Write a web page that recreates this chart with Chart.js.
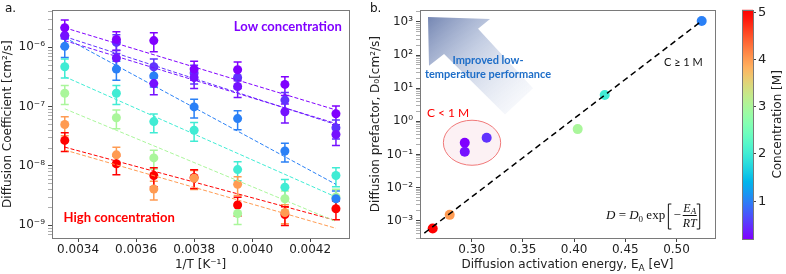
<!DOCTYPE html>
<html>
<head>
<meta charset="utf-8">
<script src="https://cdn.jsdelivr.net/npm/chart.js@4"></script>
<style>
  body { margin: 0; background: #fff; }
  #wrap { position: relative; width: 786px; height: 274px; }
  canvas { position: absolute; top: 0; }
</style>
</head>
<body>
<div id="wrap">
  <canvas id="chartA" width="360" height="274" style="left:0"></canvas>
  <canvas id="chartB" width="364" height="274" style="left:366px"></canvas>
  <canvas id="chartC" width="56" height="274" style="left:730px"></canvas>
</div>
<script>
// ---- panel a : D vs 1/T (25, 10, 0, -10, -20, -30, -40 °C) ----
const invT = [0.003354, 0.003532, 0.003661, 0.0038, 0.00395, 0.004113, 0.004289];
const aXTicks = [0.0034, 0.0036, 0.0038, 0.0040, 0.0042];
const aDecades = [-9, -8, -7, -6];
// concentration [M] of each series (3 low-conc, 1 M, 2 M, 3 M, 4 M, 5 M)
const seriesConc = [0.2, 0.3, 0.5, 1, 2, 3, 4, 5];
const dP1 = [2.14e-6, 1.36e-6, 1.30e-6, 4.3e-7, 4.2e-7, 2.37e-7, 7.6e-8];
const dP2 = [1.58e-6, 6.6e-7, 2.45e-7, 3.1e-7, 2.19e-7, 8.2e-8, 3.4e-8];
const dP3 = [1.58e-6, 1.21e-6, 4.7e-7, 3.7e-7, 3.1e-7, 1.29e-7, 4.4e-8];
const dBlue = [1.04e-6, 4.3e-7, 3.3e-7, 9.9e-8, 6.3e-8, 1.79e-8, 2.8e-9];
const dCyan = [4.7e-7, 1.68e-7, 5.6e-8, 4.0e-8, 8.7e-9, 4.4e-9, 6.9e-9];
const dGreen = [1.68e-7, 6.5e-8, 1.37e-8, null, 1.58e-9, 2.8e-9, 3.0e-9];
const dOrange = [5.0e-8, 1.54e-8, 4.1e-9, 6.2e-9, 4.9e-9, 1.64e-9, null];
const dRed = [2.7e-8, 1.09e-8, 6.9e-9, 6.4e-9, 2.2e-9, 1.52e-9, 1.9e-9];
// dashed Arrhenius fits: value at first and last temperature
const fitFirst = [2.14e-6, 1.30e-6, 1.52e-6, 1.46e-6, 3.2e-7, 9.2e-8, 1.86e-8, 2.08e-8];
const fitLast = [8.8e-8, 5.2e-8, 5.0e-8, 4.9e-9, 3.0e-9, 1.16e-9, 8.9e-10, 1.21e-9];
const relErr = 0.35;

// ---- panel b : D0 vs Ea ----
const bEa = [0.2932, 0.2932, 0.3146, 0.5246, 0.4299, 0.4035, 0.2785, 0.2619];
const bD0 = [0.225, 0.12, 0.32, 1070, 6.2, 0.58, 1.5e-3, 5.8e-4];
const bXTicks = [0.30, 0.35, 0.40, 0.45, 0.50];
const bDecades = [-3, -2, -1, 0, 1, 2, 3];
const bFitEa = [0.2537, 0.5246];
const bFitD0 = [4.2e-4, 1070];

// ---- colour bar ----
const cTicks = [1, 2, 3, 4, 5];

// matplotlib "rainbow", vmin 0.2 .. vmax 5
function rainbow(c) {
  const t = Math.min(1, Math.max(0, (c - 0.2) / 4.8));
  const r = Math.min(1, Math.abs(2 * t - 0.5));
  const g = Math.sin(Math.PI * t);
  const b = Math.cos(Math.PI * t / 2);
  return 'rgb(' + Math.round(r * 255) + ',' + Math.round(g * 255) + ',' + Math.round(b * 255) + ')';
}

const supMap = { '-': '⁻', '0': '⁰', '1': '¹', '2': '²', '3': '³', '4': '⁴', '5': '⁵', '6': '⁶', '7': '⁷', '8': '⁸', '9': '⁹' };
function pow10Label(e) {
  return '10' + String(e).split('').map(ch => supMap[ch]).join('');
}

function logTicks(scale) {
  const ticks = [];
  const lo = Math.floor(Math.log10(scale.min)), hi = Math.ceil(Math.log10(scale.max));
  for (let e = lo; e <= hi; e++) {
    for (let m = 1; m <= 9; m++) {
      const v = m * Math.pow(10, e);
      if (v >= scale.min * 0.999 && v <= scale.max * 1.001) ticks.push({ value: v, major: m === 1 });
    }
  }
  scale.ticks = ticks;
}

function logLabel(decades) {
  return function (v, i, ticks) {
    const e = Math.round(Math.log10(v));
    if (!ticks[i].major || !decades.includes(e)) return '';
    return pow10Label(e);
  };
}

const tickFont = { family: 'DejaVu Sans', size: 12 };
const titleFont = { family: 'DejaVu Sans', size: 12 };
const minorGrid = {
  display: true, drawOnChartArea: false, drawTicks: true, tickLength: 4,
  tickColor: ctx => (ctx.tick && ctx.tick.major ? '#444' : '#777'),
  tickWidth: ctx => (ctx.tick && ctx.tick.major ? 1 : 0.6)
};
const plainGrid = { display: true, drawOnChartArea: false, drawTicks: true, tickLength: 4, tickColor: '#444' };

const frame = {
  id: 'frame',
  afterDraw(chart) {
    const { ctx, chartArea: a } = chart;
    ctx.save();
    ctx.strokeStyle = '#7a7a7a';
    ctx.lineWidth = 1;
    ctx.strokeRect(Math.round(a.left) + 0.5, Math.round(a.top) + 0.5, Math.round(a.right - a.left), Math.round(a.bottom - a.top));
    ctx.restore();
  }
};

const errorBars = {
  id: 'errorBars',
  beforeDatasetsDraw(chart) {
    const { ctx, scales: { x, y } } = chart;
    ctx.save();
    ctx.lineWidth = 1.5;
    chart.data.datasets.forEach(ds => {
      if (!ds.errorBars) return;
      ctx.strokeStyle = ds.borderColor;
      ds.data.forEach(p => {
        const px = x.getPixelForValue(p.x);
        const top = y.getPixelForValue(p.y * (1 + relErr));
        const bot = y.getPixelForValue(p.y * (1 - relErr));
        ctx.beginPath();
        ctx.moveTo(px, top); ctx.lineTo(px, bot);
        ctx.moveTo(px - 4, top); ctx.lineTo(px + 4, top);
        ctx.moveTo(px - 4, bot); ctx.lineTo(px + 4, bot);
        ctx.stroke();
      });
    });
    ctx.restore();
  }
};

// ---------- panel a ----------
const aSeries = [dP1, dP2, dP3, dBlue, dCyan, dGreen, dOrange, dRed];
const aSets = [];
aSeries.forEach((vals, k) => {
  const col = rainbow(seriesConc[k]);
  aSets.push({
    type: 'line',
    data: [{ x: invT[0], y: fitFirst[k] }, { x: invT[invT.length - 1], y: fitLast[k] }],
    borderColor: col, borderWidth: 1, borderDash: [4, 2], pointRadius: 0, fill: false
  });
  aSets.push({
    type: 'scatter',
    data: invT.map((x, i) => ({ x: x, y: vals[i] })).filter(p => p.y !== null),
    backgroundColor: col, borderColor: col, pointRadius: 4.5, borderWidth: 0,
    errorBars: true
  });
});

const aText = {
  id: 'aText',
  afterDatasetsDraw(chart) {
    const { ctx, scales: { x, y } } = chart;
    ctx.save();
    ctx.fillStyle = '#111';
    ctx.font = '12px "DejaVu Sans"';
    ctx.textBaseline = 'alphabetic';
    ctx.fillText('a.', 5, 12);
    ctx.textBaseline = 'middle';
    ctx.font = 'bold 13px Lato';
    ctx.fillStyle = 'rgb(128,0,255)';
    ctx.fillText('Low concentration', x.getPixelForValue(0.003937), y.getPixelForValue(2.2e-6));
    ctx.fillStyle = 'rgb(255,0,0)';
    ctx.fillText('High concentration', x.getPixelForValue(0.00335), y.getPixelForValue(1.35e-9));
    ctx.restore();
  }
};

new Chart(document.getElementById('chartA'), {
  type: 'scatter',
  data: { datasets: aSets },
  options: {
    responsive: false, animation: false,
    layout: { padding: { left: 0, top: 5, right: 11, bottom: 0 } },
    plugins: { legend: { display: false }, tooltip: { enabled: false } },
    scales: {
      x: {
        type: 'linear', min: 0.00331, max: 0.004334,
        afterBuildTicks: s => { s.ticks = aXTicks.map(v => ({ value: v })); },
        afterFit: s => { s.height = 36; },
        ticks: { color: '#222', font: tickFont, padding: 1, maxRotation: 0, autoSkip: false, callback: v => v.toFixed(4) },
        grid: plainGrid, border: { display: false },
        title: { display: true, text: '1/T [K⁻¹]', color: '#222', font: titleFont, padding: { top: 0, bottom: 2 } }
      },
      y: {
        type: 'logarithmic', min: 6.11e-10, max: 4.23e-6,
        afterBuildTicks: logTicks,
        afterFit: s => { s.width = 52; },
        ticks: { color: '#222', font: tickFont, padding: 3, autoSkip: false, callback: logLabel(aDecades) },
        grid: minorGrid, border: { display: false },
        title: { display: true, text: 'Diffusion Coefficient [cm²/s]', color: '#222', font: titleFont, padding: { top: 1, bottom: 0 } }
      }
    }
  },
  plugins: [errorBars, frame, aText]
});

// ---------- panel b ----------
const arrowEa = [0.2573, 0.3179, 0.3062, 0.3599, 0.3325, 0.2730, 0.2583];
const arrowLogD = [3.147, 3.088, 2.794, 1.0, 0.206, 2.029, 1.676];

const bDeco = {
  id: 'bDeco',
  beforeDatasetsDraw(chart) {
    const { ctx, scales: { x, y } } = chart;
    ctx.save();
    // arrow
    const pts = arrowEa.map((e, i) => [x.getPixelForValue(e), y.getPixelForValue(Math.pow(10, arrowLogD[i]))]);
    const g = ctx.createLinearGradient(pts[0][0], pts[0][1], (pts[3][0] + pts[4][0]) / 2, (pts[3][1] + pts[4][1]) / 2);
    g.addColorStop(0, 'rgba(105,124,172,0.92)');
    g.addColorStop(0.45, 'rgba(165,180,212,0.65)');
    g.addColorStop(1, 'rgba(228,233,244,0.35)');
    ctx.fillStyle = g;
    ctx.beginPath();
    pts.forEach((p, i) => (i ? ctx.lineTo(p[0], p[1]) : ctx.moveTo(p[0], p[1])));
    ctx.closePath();
    ctx.fill();
    // ellipse round the C < 1 M points
    const cx = x.getPixelForValue(0.3003), cy = y.getPixelForValue(0.225);
    const rx = Math.abs(x.getPixelForValue(0.3003 + 0.028) - cx);
    const ry = Math.abs(y.getPixelForValue(0.225 * Math.pow(10, 0.68)) - cy);
    ctx.beginPath();
    ctx.ellipse(cx, cy, rx, ry, 0, 0, Math.PI * 2);
    ctx.fillStyle = 'rgba(245,200,210,0.25)';
    ctx.fill();
    ctx.strokeStyle = 'rgb(240,120,120)';
    ctx.lineWidth = 1;
    ctx.stroke();
    ctx.restore();
  },
  afterDatasetsDraw(chart) {
    const { ctx, scales: { x, y }, chartArea: a } = chart;
    ctx.save();
    ctx.fillStyle = '#111';
    ctx.font = '12px "DejaVu Sans"';
    ctx.fillText('b.', 4, 12);
    // x-axis title with a capital subscript A
    ctx.fillStyle = '#222';
    const t1 = 'Diffusion activation energy, E', t2 = 'A', t3 = ' [eV]';
    ctx.font = '12px "DejaVu Sans"';
    const w1 = ctx.measureText(t1).width, w3 = ctx.measureText(t3).width;
    ctx.font = '9px "DejaVu Sans"';
    const w2 = ctx.measureText(t2).width;
    let tx = (a.left + a.right) / 2 - (w1 + w2 + w3) / 2;
    const ty = 268;
    ctx.font = '12px "DejaVu Sans"';
    ctx.fillText(t1, tx, ty);
    ctx.font = '9px "DejaVu Sans"';
    ctx.fillText(t2, tx + w1, ty + 3);
    ctx.font = '12px "DejaVu Sans"';
    ctx.fillText(t3, tx + w1 + w2, ty);

    ctx.textBaseline = 'middle';
    ctx.textAlign = 'center';
    ctx.font = 'bold 11px Lato';
    ctx.fillStyle = 'rgb(30,110,200)';
    ctx.fillText('Improved low-', x.getPixelForValue(0.3159), y.getPixelForValue(66.7));
    ctx.fillText('temperature performance', x.getPixelForValue(0.3159), y.getPixelForValue(25.8));
    ctx.textAlign = 'left';
    ctx.font = '12px Lato';
    ctx.fillStyle = 'rgb(255,0,0)';
    ctx.fillText('C < 1 M', x.getPixelForValue(0.2563), y.getPixelForValue(1.72));
    ctx.font = '11px Lato';
    ctx.fillStyle = '#111';
    ctx.fillText('C ≥ 1 M', x.getPixelForValue(0.4878), y.getPixelForValue(58.2));
    // D = D0 exp[-EA/RT]
    ctx.textBaseline = 'alphabetic';
    let px = a.right - 109;
    const by = a.bottom - 19;
    const part = (txt, font, dy) => {
      ctx.font = font;
      ctx.fillText(txt, px, by + (dy || 0));
      px += ctx.measureText(txt).width;
    };
    const it = 'italic 13px "Liberation Serif"', up = '13px "Liberation Serif"';
    part('D', it); part(' = ', up); part('D', it); part('0', '9px "Liberation Serif"', 3); part(' exp ', up);
    ctx.strokeStyle = '#111';
    ctx.lineWidth = 1;
    ctx.beginPath();
    ctx.moveTo(px + 3, by - 15); ctx.lineTo(px, by - 15); ctx.lineTo(px, by + 10); ctx.lineTo(px + 3, by + 10);
    ctx.stroke();
    px += 5;
    part('−', up);
    px += 2;
    ctx.font = 'italic 12px "Liberation Serif"';
    const wE = ctx.measureText('E').width;
    const wRT = ctx.measureText('RT').width;
    ctx.font = 'italic 9px "Liberation Serif"';
    const wA = ctx.measureText('A').width;
    const fw = Math.max(wE + wA, wRT);
    ctx.font = 'italic 12px "Liberation Serif"';
    ctx.fillText('E', px + (fw - wE - wA) / 2, by - 7);
    ctx.fillText('RT', px + (fw - wRT) / 2, by + 8);
    ctx.font = 'italic 9px "Liberation Serif"';
    ctx.fillText('A', px + (fw - wE - wA) / 2 + wE, by - 5);
    ctx.beginPath();
    ctx.moveTo(px, by - 3.5); ctx.lineTo(px + fw, by - 3.5);
    ctx.stroke();
    px += fw + 3;
    ctx.beginPath();
    ctx.moveTo(px - 3, by - 15); ctx.lineTo(px, by - 15); ctx.lineTo(px, by + 10); ctx.lineTo(px - 3, by + 10);
    ctx.stroke();
    ctx.restore();
  }
};

new Chart(document.getElementById('chartB'), {
  type: 'scatter',
  data: {
    datasets: [
      {
        type: 'line',
        data: bFitEa.map((e, i) => ({ x: e, y: bFitD0[i] })),
        borderColor: '#000', borderWidth: 1.5, borderDash: [6, 4], pointRadius: 0, fill: false
      },
      {
        type: 'scatter',
        data: bEa.map((e, i) => ({ x: e, y: bD0[i] })),
        backgroundColor: seriesConc.map(rainbow), borderWidth: 0, pointRadius: 5
      }
    ]
  },
  options: {
    responsive: false, animation: false,
    layout: { padding: { left: 2, top: 5, right: 15, bottom: 0 } },
    plugins: { legend: { display: false }, tooltip: { enabled: false } },
    scales: {
      x: {
        type: 'linear', min: 0.2495, max: 0.5376,
        afterBuildTicks: s => { s.ticks = bXTicks.map(v => ({ value: v })); },
        afterFit: s => { s.height = 36; },
        ticks: { color: '#222', font: tickFont, padding: 1, maxRotation: 0, autoSkip: false, callback: v => v.toFixed(2) },
        grid: plainGrid, border: { display: false }
      },
      y: {
        type: 'logarithmic', min: 3.16e-4, max: 2254,
        afterBuildTicks: logTicks,
        afterFit: s => { s.width = 52; },
        ticks: { color: '#222', font: tickFont, padding: 3, autoSkip: false, callback: logLabel(bDecades) },
        grid: minorGrid, border: { display: false },
        title: { display: true, text: 'Diffusion prefactor, D₀[cm²/s]', color: '#222', font: titleFont, padding: { top: 1, bottom: 0 } }
      }
    }
  },
  plugins: [bDeco, frame]
});

// ---------- colour bar ----------
const colorBar = {
  id: 'colorBar',
  beforeDatasetsDraw(chart) {
    const { ctx, chartArea: a, scales: { y } } = chart;
    ctx.save();
    const g = ctx.createLinearGradient(0, a.bottom, 0, a.top);
    for (let i = 0; i <= 24; i++) {
      const c = y.min + (y.max - y.min) * i / 24;
      g.addColorStop(i / 24, rainbow(c));
    }
    ctx.fillStyle = g;
    ctx.fillRect(a.left, a.top, a.right - a.left, a.bottom - a.top);
    ctx.translate(48, (a.top + a.bottom) / 2);
    ctx.rotate(-Math.PI / 2);
    ctx.textAlign = 'center';
    ctx.textBaseline = 'middle';
    ctx.fillStyle = '#222';
    ctx.font = '12px "DejaVu Sans"';
    ctx.fillText('Concentration [M]', 0, 0);
    ctx.restore();
  }
};

new Chart(document.getElementById('chartC'), {
  type: 'scatter',
  data: { datasets: [{ data: [] }] },
  options: {
    responsive: false, animation: false,
    layout: { padding: { left: 12, top: 7, right: 0, bottom: 35 } },
    plugins: { legend: { display: false }, tooltip: { enabled: false } },
    scales: {
      x: { display: false, min: 0, max: 1 },
      y: {
        position: 'right', min: 0.2, max: 5.05,
        afterBuildTicks: s => { s.ticks = cTicks.map(v => ({ value: v })); },
        afterFit: s => { s.width = 33; },
        ticks: { color: '#222', font: { family: 'DejaVu Sans', size: 13 }, padding: 2 },
        grid: { display: true, drawOnChartArea: false, drawTicks: true, tickLength: 3, tickColor: '#444' },
        border: { display: false }
      }
    }
  },
  plugins: [colorBar, frame]
});
</script>
</body>
</html>
